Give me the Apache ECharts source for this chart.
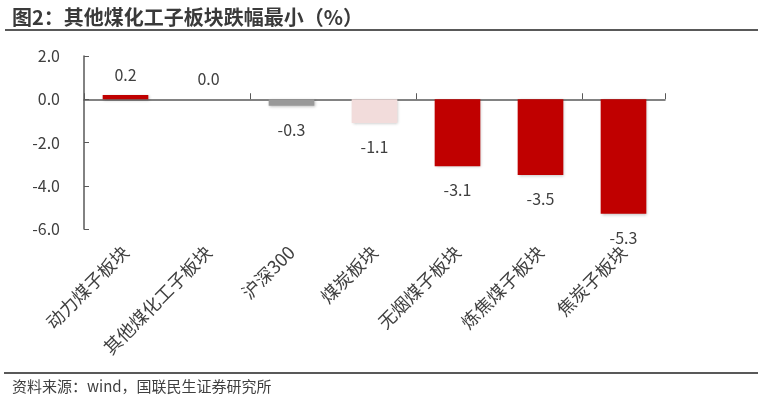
<!DOCTYPE html>
<html lang="zh">
<head>
<meta charset="UTF-8">
<title>图2</title>
<style>
  body { margin: 0; background: #fff; }
  #chart { width: 758px; height: 412px; }
</style>
</head>
<body>
<div id="chart"></div>
<script src="https://cdn.jsdelivr.net/npm/echarts@6/dist/echarts.min.js"></script>
<script>
const categories = ['动力煤子板块', '其他煤化工子板块', '沪深300', '煤炭板块', '无烟煤子板块', '炼焦煤子板块', '焦炭子板块'];
const values = [0.2, 0.0, -0.3, -1.1, -3.1, -3.5, -5.3];
const barColors = ['#C00000', '#C00000', '#999999', '#F2DCDB', '#C00000', '#C00000', '#C00000'];
const yTicks = { min: -6, max: 2, interval: 2 };

const font = '"Noto Sans CJK SC", "Noto Sans", sans-serif';
const txt = '#404040';

const chart = echarts.init(document.getElementById('chart'));

const option = {
    animation: false,
    textStyle: { fontFamily: font },
    title: {
        text: '图2：其他煤化工子板块跌幅最小（%）',
        left: 7,
        top: 2,
        textStyle: { fontSize: 20, fontWeight: 'bold', color: '#3a3a3a', fontFamily: font }
    },
    graphic: [
        { type: 'line', shape: { x1: 5, y1: 30, x2: 758, y2: 30 }, style: { stroke: '#595959', lineWidth: 2 } },
        { type: 'line', shape: { x1: 4, y1: 373, x2: 758, y2: 373 }, style: { stroke: '#595959', lineWidth: 2 } },
        { type: 'text', left: 12, top: 379, style: { text: '资料来源：wind，国联民生证券研究所', fontSize: 15, fill: txt, fontFamily: font } }
    ],
    grid: { left: 84, right: 93, top: 56, bottom: 183 },
    xAxis: [{
        type: 'category',
        data: categories,
        axisLine: { onZero: true, lineStyle: { color: '#595959', width: 1.5 } },
        axisTick: { show: true, inside: true, length: 6, lineStyle: { color: '#595959' } },
        axisLabel: { show: false }
    }, {
        type: 'category',
        data: categories,
        position: 'bottom',
        axisLine: { show: false, onZero: false },
        axisTick: { show: false },
        axisLabel: { rotate: 45, fontSize: 18, color: txt, margin: 20, interval: 0 }
    }],
    yAxis: {
        type: 'value',
        min: yTicks.min,
        max: yTicks.max,
        interval: yTicks.interval,
        splitLine: { show: false },
        axisLine: { show: true, lineStyle: { color: '#595959', width: 1.5 } },
        axisTick: { show: true, inside: true, length: 5, lineStyle: { color: '#595959' } },
        axisLabel: { fontSize: 16, color: txt, margin: 24, formatter: v => v.toFixed(1) }
    },
    series: [{
        type: 'bar',
        xAxisIndex: 0,
        barWidth: '55%',
        data: values.map((v, i) => ({
            value: v,
            itemStyle: { color: barColors[i] },
            label: { position: v >= 0 ? 'top' : 'bottom', distance: v >= 0 ? 12 : 16 }
        })),
        itemStyle: { shadowColor: 'rgba(0,0,0,0.25)', shadowBlur: 3, shadowOffsetX: 1, shadowOffsetY: 1 },
        label: { show: true, fontSize: 16, color: txt, formatter: p => p.value.toFixed(1) }
    }]
};

chart.setOption(option);
</script>
</body>
</html>
